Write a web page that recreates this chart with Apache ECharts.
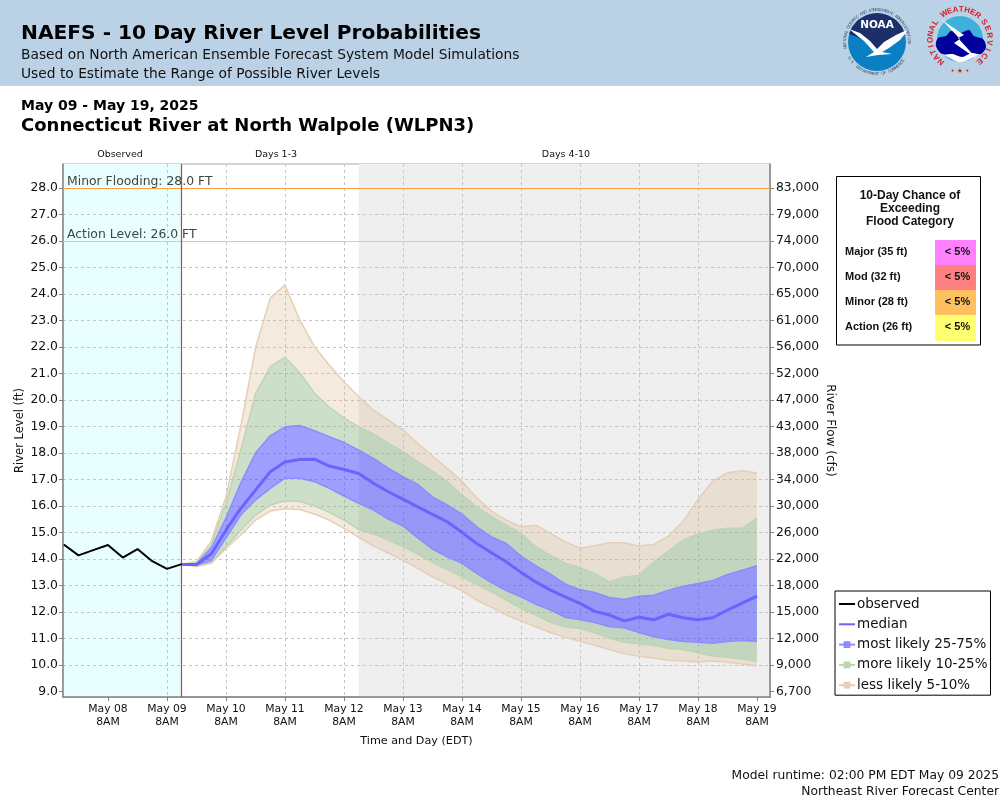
<!DOCTYPE html>
<html>
<head>
<meta charset="UTF-8">
<title>NAEFS - 10 Day River Level Probabilities</title>
<script src="https://cdn.jsdelivr.net/npm/echarts@6/dist/echarts.min.js"></script>
<style>
html,body{margin:0;padding:0;background:#fff}
#main{width:1000px;height:800px}
</style>
</head>
<body>
<div id="main"></div>
<script>
// x is hours after May 08 8AM
var tickHours = [0,24,48,72,96,120,144,168,192,216,240,264];
var tickLabels = ['May 08\n8AM','May 09\n8AM','May 10\n8AM','May 11\n8AM','May 12\n8AM','May 13\n8AM','May 14\n8AM','May 15\n8AM','May 16\n8AM','May 17\n8AM','May 18\n8AM','May 19\n8AM'];
var stageTicks = [9,10,11,12,13,14,15,16,17,18,19,20,21,22,23,24,25,26,27,28];
var flowTicks = ['6,700','9,000','12,000','15,000','18,000','22,000','26,000','30,000','34,000','38,000','43,000','47,000','52,000','56,000','61,000','65,000','70,000','74,000','79,000','83,000'];

var obsHours = [-18,-12,-6,0,6,12,18,24,30];
var observed = [14.55,14.14,14.34,14.53,14.06,14.38,13.92,13.63,13.81];

// forecast runs every 6h from May 09 2PM
var fcstHours = [];
for (var h = 30; h <= 264; h += 6) fcstHours.push(h);
var median = [13.80,13.80,14.19,15.09,15.91,16.60,17.29,17.66,17.76,17.77,17.51,17.38,17.23,16.86,16.54,16.26,15.97,15.69,15.41,15.01,14.59,14.24,13.90,13.50,13.14,12.83,12.58,12.33,12.03,11.89,11.67,11.81,11.71,11.92,11.79,11.71,11.79,12.08,12.34,12.60];
var upper25 = [13.81,13.82,14.42,15.55,16.87,18.00,18.65,18.99,19.04,18.84,18.62,18.40,18.11,17.80,17.43,17.11,16.82,16.35,16.04,15.70,15.22,14.84,14.59,14.11,13.75,13.43,13.06,12.85,12.74,12.55,12.48,12.60,12.64,12.83,12.98,13.08,13.19,13.42,13.58,13.75];
var lower25 = [13.81,13.78,13.95,14.79,15.66,16.23,16.67,17.05,17.05,16.92,16.67,16.38,16.10,15.85,15.51,15.25,14.80,14.38,14.09,13.84,13.46,13.11,12.81,12.58,12.30,12.08,11.80,11.72,11.61,11.45,11.41,11.23,11.07,10.97,10.89,10.86,10.83,10.89,10.93,10.89];
var upper10 = [13.81,13.85,14.53,16.10,18.11,20.23,21.26,21.61,21.03,20.25,19.72,19.33,18.99,18.71,18.37,18.05,17.67,17.32,16.92,16.42,15.97,15.60,15.28,14.97,14.46,14.15,13.84,13.69,13.46,13.14,13.33,13.38,13.90,14.30,14.72,14.94,15.09,15.16,15.16,15.56];
var lower10 = [13.81,13.75,13.88,14.47,15.09,15.66,16.04,16.20,16.17,16.01,15.76,15.47,15.12,14.95,14.72,14.47,14.19,13.88,13.61,13.33,13.05,12.77,12.45,12.14,11.89,11.61,11.45,11.38,11.22,11.01,10.86,10.80,10.75,10.63,10.59,10.47,10.35,10.30,10.23,10.15];
var upper5 = [13.81,13.90,14.68,16.35,19.00,21.96,23.84,24.34,23.02,22.01,21.32,20.69,20.12,19.62,19.25,18.87,18.37,17.89,17.42,16.94,16.31,15.81,15.47,15.22,15.28,14.97,14.65,14.42,14.50,14.62,14.62,14.49,14.55,14.87,15.43,16.25,16.94,17.26,17.33,17.25];
var lower5 = [13.81,13.72,13.84,14.40,14.91,15.47,15.81,15.90,15.87,15.70,15.47,15.16,14.82,14.49,14.23,13.96,13.65,13.33,13.06,12.81,12.45,12.18,11.89,11.67,11.45,11.23,11.04,10.90,10.75,10.59,10.43,10.34,10.26,10.19,10.16,10.12,10.16,10.11,10.04,9.97];

var floodCats = ['Major (35 ft)','Mod (32 ft)','Minor (28 ft)','Action (26 ft)'];
var floodChance = ['< 5%','< 5%','< 5%','< 5%'];
var floodColors = ['#ff80ff','#ff8080','#ffc060','#ffff70'];

var FONT = 'DejaVu Sans';
var xMin = -18.3, xMax = 269.3, yMin = 8.8, yMax = 28.9;

var TAN = 'rgba(210,170,120,0.25)', TAN_EDGE = '#e5cfb8', GREEN = 'rgba(130,175,120,0.4)', GREEN_EDGE = '#bdd6b2', BLUE = 'rgba(64,64,255,0.5)', BLUE_EDGE = '#8c8cff';

function pairs(xs, ys){ return xs.map(function(x,i){ return [x, ys[i]]; }); }

// fill between two edges, drawn once as a single polygon
function fill(top, bottom, color){
	return {
		type: 'custom', silent: true, z: 3,
		data: fcstHours.map(function(x,i){ return [x, bottom[i], top[i]]; }),
		encode: {x: 0, y: [1,2]},
		renderItem: function(params, api){
			if (params.dataIndex !== 0) return;
			var pts = [], i;
			for (i = 0; i < fcstHours.length; i++) pts.push(api.coord([fcstHours[i], top[i]]));
			for (i = fcstHours.length-1; i >= 0; i--) pts.push(api.coord([fcstHours[i], bottom[i]]));
			return {type: 'polygon', shape: {points: pts}, style: {fill: color}};
		}
	};
}
function edge(name, values, color){
	return {
		name: name, type: 'line', data: pairs(fcstHours, values),
		symbol: 'rect', showSymbol: false, silent: true,
		itemStyle: {color: color}, lineStyle: {color: color, width: 1.5}, z: 4
	};
}

var series = [
	// zones and thresholds live on an empty carrier series
	{
		name: 'zones', type: 'line', data: [], silent: true, z: 1,
		markArea: {silent: true, z: 1, data: [
			[{xAxis: xMin, itemStyle: {color: '#e9fefe'}}, {xAxis: 30}],
			[{xAxis: 102, itemStyle: {color: '#efefef'}}, {xAxis: xMax}]
		]}
	},
	fill(lower10, lower5, TAN),
	fill(lower25, lower10, GREEN),
	fill(upper25, lower25, BLUE),
	fill(upper10, upper25, GREEN),
	fill(upper5, upper10, TAN),
	edge('less likely 5-10%', lower5, TAN_EDGE),
	edge('less likely 5-10%', upper5, TAN_EDGE),
	edge('more likely 10-25%', lower10, GREEN_EDGE),
	edge('more likely 10-25%', upper10, GREEN_EDGE),
	edge('most likely 25-75%', lower25, BLUE_EDGE),
	edge('most likely 25-75%', upper25, BLUE_EDGE),
	{
		name: 'thresholds', type: 'line', data: [], silent: true, z: 6,
		markLine: {silent: true, symbol: 'none', animation: false, data: [
			{yAxis: 28, lineStyle: {color: '#ffa040', width: 1.2, type: 'solid'},
				label: {show: true, position: 'insideStartTop', formatter: 'Minor Flooding: 28.0 FT', color: '#444', fontFamily: FONT, fontSize: 12.4, distance: [4,0]}},
			{yAxis: 26, lineStyle: {color: '#ffcc33', width: 1.2, type: 'solid'},
				label: {show: true, position: 'insideStartTop', formatter: 'Action Level: 26.0 FT', color: '#444', fontFamily: FONT, fontSize: 12.4, distance: [4,0]}},
			{xAxis: 30, lineStyle: {color: '#dd3333', width: 1.2, type: 'solid'}, label: {show: false}}
		]}
	},
	{name: 'median', type: 'line', data: pairs(fcstHours, median), symbol: 'none',
		lineStyle: {color: '#6666ff', width: 3}, silent: true, z: 7},
	{name: 'observed', type: 'line', data: pairs(obsHours, observed), symbol: 'none',
		lineStyle: {color: '#000', width: 2}, silent: true, z: 8}
];

function headText(txt, x, y, font, fill, align){
	return {type: 'text', x: x, y: y, style: {text: txt, font: font, fill: fill, align: align || 'left', verticalAlign: 'middle'}};
}

// header, titles, side panel
var graphics = [
	{type: 'rect', shape: {x: 0, y: 0, width: 1000, height: 86}, style: {fill: '#bbd2e6'}, z: -1},
	headText('NAEFS - 10 Day River Level Probabilities', 21, 34, 'bold 20.2px "DejaVu Sans"', '#000'),
	headText('Based on North American Ensemble Forecast System Model Simulations', 21, 55.5, '13.8px "DejaVu Sans"', '#111'),
	headText('Used to Estimate the Range of Possible River Levels', 21, 74.5, '13.8px "DejaVu Sans"', '#111'),
	headText('May 09 - May 19, 2025', 21, 106, 'bold 14px "DejaVu Sans"', '#000'),
	headText('Connecticut River at North Walpole (WLPN3)', 21, 126.5, 'bold 18px "DejaVu Sans"', '#000'),
	headText('Observed', 120, 154.5, '9.5px "DejaVu Sans"', '#111', 'center'),
	headText('Days 1-3', 276, 154.5, '9.5px "DejaVu Sans"', '#111', 'center'),
	headText('Days 4-10', 566, 154.5, '9.5px "DejaVu Sans"', '#111', 'center'),
	headText('Model runtime: 02:00 PM EDT May 09 2025', 999, 776, '12.3px "DejaVu Sans"', '#111', 'right'),
	headText('Northeast River Forecast Center', 999, 792, '12.3px "DejaVu Sans"', '#111', 'right'),
	{type: 'rect', shape: {x: 836.5, y: 176.5, width: 144, height: 168.5}, style: {fill: '#fff', stroke: '#000', lineWidth: 1}},
	headText('10-Day Chance of', 910, 196, 'bold 12px "Liberation Sans"', '#111', 'center'),
	headText('Exceeding', 910, 209, 'bold 12px "Liberation Sans"', '#111', 'center'),
	headText('Flood Category', 910, 222, 'bold 12px "Liberation Sans"', '#111', 'center')
];
floodCats.forEach(function(c, i){
	var top = 240 + i*25;
	graphics.push({type: 'rect', shape: {x: 935, y: top, width: 41, height: i == 3 ? 26 : 25}, style: {fill: floodColors[i]}});
	graphics.push(headText(c, 845, top+11.8, 'bold 11px "Liberation Sans"', '#111'));
	graphics.push(headText(floodChance[i], 957.5, top+11.8, 'bold 11px "Liberation Sans"', '#111', 'center'));
});

// letters set around a circle, for the two agency seals
function ringText(txt, cx, cy, r, startDeg, stepDeg, font, fill, flip){
	for (var i = 0; i < txt.length; i++){
		var a = (startDeg + stepDeg*i) * Math.PI/180;
		graphics.push({type: 'text', x: cx + r*Math.cos(a), y: cy + r*Math.sin(a),
			rotation: -(a + (flip ? -Math.PI/2 : Math.PI/2)),
			style: {text: txt[i], font: font, fill: fill, align: 'center', verticalAlign: 'middle'}});
	}
}
function poly(points, fill, smooth){
	return {type: 'polygon', shape: {points: points, smooth: smooth || 0}, style: {fill: fill}};
}
// NOAA seal
graphics.push({type: 'circle', shape: {cx: 877, cy: 42, r: 29}, style: {fill: '#0a7fc4'}});
graphics.push(poly([[849,34],[852,27],[858,20],[867,15],[877,13],[887,15],[896,20],[902,27],[905,34],[892,42],[884,47],[877,52],[869,44],[860,38]], '#1c2f6b'));
graphics.push(poly([[849,29],[860,33],[870,41],[877,49],[884,42],[896,35],[909,29],[900,40],[889,48],[882,52],[892,54],[878,55],[866,57],[874,52],[864,41]], '#fff'));
graphics.push(headText('NOAA', 877, 25, 'bold 10.5px "DejaVu Sans"', '#fff', 'center'));
ringText('NATIONAL OCEANIC AND ATMOSPHERIC ADMINISTRATION', 877, 42, 32, 170, 4.15, '4px "DejaVu Sans"', '#33475f', false);
ringText('U.S. DEPARTMENT OF COMMERCE', 877, 42, 32, 150, -4.4, '4px "DejaVu Sans"', '#33475f', true);
// NWS seal
graphics.push({type: 'circle', shape: {cx: 960, cy: 39, r: 23}, style: {fill: '#3db0dc'}});
graphics.push(poly([[940,52],[950,58],[960,62],[972,58],[980,52]], '#fff', 0.4));
graphics.push(poly([[936,46],[938,38],[946,36],[951,31],[960,33],[969,30],[974,36],[983,39],[986,47],[981,54],[972,53],[962,57],[953,54],[942,54]], '#00009c', 0.3));
graphics.push(poly([[942,20],[964,35],[958,38],[977,59],[954,43],[960,39]], '#fff'));
ringText('NATIONAL', 960, 39, 29.5, 130, 12, 'bold 8px "Liberation Sans"', '#d0202a', false);
ringText('WEATHER', 960, 39, 29.5, 238, 11.5, 'bold 8px "Liberation Sans"', '#d0202a', false);
ringText('SERVICE', 960, 39, 29.5, 325, 14, 'bold 8px "Liberation Sans"', '#d0202a', false);
graphics.push(headText('• ★ •', 960, 71, '7px "DejaVu Sans"', '#d0202a', 'center'));

var gridLine = {show: true, showMinLine: false, showMaxLine: false, lineStyle: {color: '#c6c6c6', type: [3,3], width: 1}};

var option = {
	animation: false,
	backgroundColor: '#fff',
	textStyle: {fontFamily: FONT},
	graphic: graphics,
	grid: {left: 63, right: 230, top: 164, bottom: 103, outerBoundsMode: 'none', show: true, borderColor: '#aaa', borderWidth: 1, backgroundColor: 'transparent'},
	legend: {
		left: 835, top: 591, orient: 'vertical', itemWidth: 16, itemHeight: 8.5, itemGap: 6.3,
		padding: [6,3,3,3], borderColor: '#000', borderWidth: 1, backgroundColor: '#fff', selectedMode: false,
		textStyle: {fontFamily: FONT, fontSize: 13.5, color: '#111', padding: [0,0,0,-3]},
		data: [
			{name: 'observed', itemStyle: {opacity: 0}},
			{name: 'median', itemStyle: {opacity: 0}},
			'most likely 25-75%','more likely 10-25%','less likely 5-10%'
		]
	},
	xAxis: {
		type: 'value', min: xMin, max: xMax, z: 2,
		name: 'Time and Day (EDT)', nameLocation: 'middle', nameGap: 39,
		nameTextStyle: {fontFamily: FONT, fontSize: 11.2, color: '#111'},
		axisLine: {onZero: false, lineStyle: {color: '#808080', width: 1.5}},
		axisTick: {length: 4, lineStyle: {color: '#808080'}, customValues: tickHours},
		axisLabel: {customValues: tickHours, fontFamily: FONT, fontSize: 10.8, color: '#111', lineHeight: 12.5, margin: 6, hideOverlap: false,
			formatter: function(v){ return tickLabels[tickHours.indexOf(v)]; }},
		splitLine: gridLine
	},
	yAxis: [{
		type: 'value', min: yMin, max: yMax, z: 2,
		name: 'River Level (ft)', nameLocation: 'middle', nameGap: 37, nameRotate: 90, nameMoveOverlap: false,
		nameTextStyle: {fontFamily: FONT, fontSize: 11.5, color: '#111'},
		axisLine: {show: true, onZero: false, lineStyle: {color: '#808080', width: 1.5}},
		axisTick: {show: true, length: 4, lineStyle: {color: '#808080'}, customValues: stageTicks},
		axisLabel: {customValues: stageTicks, fontFamily: FONT, fontSize: 12.4, color: '#111', margin: 5, padding: [8,0,0,0],
			formatter: function(v){ return v.toFixed(1); }},
		splitLine: gridLine
	},{
		type: 'value', min: yMin, max: yMax, position: 'right', z: 2,
		name: 'River Flow (cfs)', nameLocation: 'middle', nameGap: 54, nameRotate: -90, nameMoveOverlap: false,
		nameTextStyle: {fontFamily: FONT, fontSize: 12, color: '#111'},
		axisLine: {show: true, onZero: false, lineStyle: {color: '#808080', width: 1.5}},
		axisTick: {show: true, length: 4, lineStyle: {color: '#808080'}, customValues: stageTicks},
		axisLabel: {customValues: stageTicks, fontFamily: FONT, fontSize: 12.3, color: '#111', margin: 6, padding: [8,0,0,0],
			formatter: function(v){ return flowTicks[stageTicks.indexOf(v)]; }},
		splitLine: {show: false}
	}],
	series: series
};

var chart = echarts.init(document.getElementById('main'));
chart.setOption(option);
</script>
</body>
</html>
